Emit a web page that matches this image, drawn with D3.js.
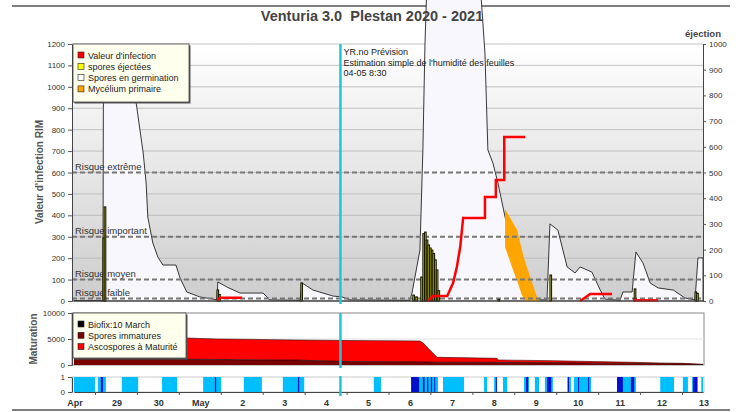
<!DOCTYPE html>
<html>
<head>
<meta charset="utf-8">
<script src="https://cdn.jsdelivr.net/npm/d3@7"></script>
<style>
body { margin: 0; background: #fff; }
text { font-family: "Liberation Sans", Arial, sans-serif; }
</style>
</head>
<body>
<div id="chart"></div>
<script>
// days counted from 28 April (0) to 13 May (15)
const dayLabels = ["Apr","29","30","May","2","3","4","5","6","7","8","9","10","11","12","13"];
const riskLevels = [600, 300, 100, 12];
const riskNames = ["Risque extrême", "Risque important", "Risque moyen", "Risque faible"];
const forecastDay = 6.354; // 04-05 8:30

// spores en germination [day, value]
const germination = [[0,2],[0.62,2],[0.69,0],[0.70,900],[0.72,1150],[0.80,1190],[1.30,1185],[1.40,1100],[1.48,929],
  [1.65,691],[1.72,551],[1.76,392],[1.88,271],[2.00,205],[2.12,168],[2.43,168],[2.53,107],[2.69,42],[3.00,19],
  [3.31,9],[3.41,5],[3.43,89],[3.65,65],[3.96,37],[4.51,37],[4.67,5],[5.39,3],[5.44,84],[5.70,51],[5.94,37],
  [6.18,23],[6.39,19],[6.58,5],[8.01,3],[8.06,37],[8.25,238],[8.32,705],[8.37,1200],[8.42,1500],[9.68,1500],
  [9.80,1158],[9.87,705],[9.99,644],[10.11,551],[10.28,392],[10.47,252],[10.70,90],[10.88,5],[11.28,5],
  [11.35,360],[11.54,331],[11.76,159],[11.95,131],[12.07,159],[12.35,135],[12.55,51],[12.66,9],[13.02,3],
  [13.09,42],[13.31,42],[13.40,229],[13.57,177],[13.74,84],[13.93,61],[14.29,51],[14.57,14],[14.81,5],
  [14.88,201],[15,201]];

// mycelium primaire [day, low, high]
const mycelium = [[10.28,252,430],[10.47,145,364],[10.57,93,331],[10.68,28,238],[10.76,0,182],
  [10.88,0,112],[11.04,0,19],[11.11,0,0]];

// valeur d'infection, one array per run
const infection = [
  [[3.41,0],[3.48,15],[4.01,15]],
  [[8.44,0],[8.56,23],[8.90,23],[9.04,84],[9.13,159],[9.21,252],[9.28,388],[9.80,388],[9.80,486],
   [10.06,486],[10.06,565],[10.26,565],[10.26,766],[10.76,766]],
  [[12.07,0],[12.31,33],[12.83,33]],
  [[13.33,3],[13.93,3]]
];

// spores éjectées (right axis) [day, value]
const ejection = [[0.69,245],[0.72,366],[3.41,43],[3.45,25],[5.41,70],[8.08,23],[8.15,16],[8.27,93],
  [8.32,262],[8.36,268],[8.40,237],[8.44,218],[8.48,206],[8.52,198],[8.56,185],[8.60,160],[8.64,121],
  [8.68,40],[10.11,6],[11.35,101],[13.36,47],[14.81,35],[14.85,30]];

// maturation
const maturationDays = [0,2.67,3.41,4.0,5.27,6.58,8.25,8.32,8.44,8.66,10.09,10.11,11.40,12.07,13.33,13.98,14.50,15];
const sporesImmatures = [1100,1100,1080,1000,960,650,600,580,560,550,520,500,450,400,300,250,200,100];
const ascosporesMatures = [4100,4090,3920,3950,3850,4050,4015,3708,2709,931,768,462,377,312,219,135,127,35];

// leaf wetness strip [start, end]
const wetPeriods = [[0,0.5],[0.57,0.76],[1.14,1.53],[2.10,2.46],[3.08,3.51],[4.05,4.48],[4.98,5.49],
  [7.15,7.32],[8.04,8.68],[8.80,9.30],[9.78,9.85],[10.02,10.09],[10.23,10.33],[10.73,10.85],[10.99,11.09],
  [11.23,11.42],[11.76,11.85],[11.92,12.33],[12.95,13.40],[13.98,14.31],[14.52,14.64],[14.74,14.88],[14.96,15.0]];
const rainPeriods = [[0.64,0.69],[3.36,3.39],[5.34,5.37],[8.04,8.23],[8.32,8.36],[8.42,8.45],[8.51,8.54],
  [8.59,8.61],[10.06,10.08],[10.78,10.83],[11.28,11.38],[11.78,11.80],[12.02,12.04],[12.26,12.28],
  [12.95,13.09],[13.28,13.36],[14.76,14.86]];

var width = 740, height = 412;

var svg = d3.select("#chart")
    .append("svg")
    .attr("width", width)
    .attr("height", height);

var x = d3.scaleLinear().domain([0, 15]).range([74, 703]);
var yL = d3.scaleLinear().domain([0, 1200]).range([301, 44]);
var yR = d3.scaleLinear().domain([0, 1000]).range([301, 44]);
var yM = d3.scaleLinear().domain([0, 10000]).range([365, 313]);
var yS = d3.scaleLinear().domain([0, 1]).range([392, 377]);
var fmt = d3.format("d");

var grad = svg.append("defs").append("linearGradient")
    .attr("id", "bg").attr("x1", 0).attr("y1", 0).attr("x2", 0).attr("y2", 1);
grad.append("stop").attr("offset", "0%").attr("stop-color", "#ffffff");
grad.append("stop").attr("offset", "100%").attr("stop-color", "#cdcdcd");

// frame lines
svg.append("line").attr("x1", 12).attr("x2", 730).attr("y1", 6).attr("y2", 6)
    .attr("stroke", "#555").attr("stroke-width", 1.5);
svg.append("line").attr("x1", 12).attr("x2", 730).attr("y1", 410).attr("y2", 410)
    .attr("stroke", "#555").attr("stroke-width", 1.5);

// ---- top panel
svg.append("rect")
    .attr("x", 72).attr("y", 44).attr("width", 631).attr("height", 257)
    .attr("fill", "url(#bg)");

svg.append("g").selectAll("line")
    .data(d3.range(100, 1201, 100))
    .join("line")
    .attr("x1", 72).attr("x2", 703)
    .attr("y1", d => yL(d)).attr("y2", d => yL(d))
    .attr("stroke", "#b5b5b5").attr("stroke-width", 0.8);

svg.append("path")
    .datum(germination)
    .attr("fill", "#f7f7fd")
    .attr("stroke", "#222")
    .attr("stroke-width", 0.9)
    .attr("d", d3.area()
        .x(d => x(d[0]))
        .y0(yL(0))
        .y1(d => yL(d[1])));

svg.append("path")
    .datum(mycelium)
    .attr("fill", "#ffa500")
    .attr("d", d3.area()
        .x(d => x(d[0]))
        .y0(d => yL(d[1]))
        .y1(d => yL(d[2])));

svg.append("g").selectAll("line")
    .data(riskLevels)
    .join("line")
    .attr("x1", 72).attr("x2", 703)
    .attr("y1", d => yL(d)).attr("y2", d => yL(d))
    .attr("stroke", "#777").attr("stroke-width", 2)
    .attr("stroke-dasharray", "5,3");

svg.append("g").selectAll("text")
    .data(riskLevels)
    .join("text")
    .attr("x", 75)
    .attr("y", d => yL(d) - 2.5)
    .attr("font-size", 9.5)
    .attr("fill", "#333")
    .text((d, i) => riskNames[i]);

svg.append("g").selectAll("rect")
    .data(ejection)
    .join("rect")
    .attr("x", d => x(d[0]))
    .attr("y", d => yR(d[1]))
    .attr("width", 1.6)
    .attr("height", d => yR(0) - yR(d[1]))
    .attr("fill", "#e8e800")
    .attr("stroke", "#1a1a00")
    .attr("stroke-width", 1.1);

var infLine = d3.line().x(d => x(d[0])).y(d => yL(d[1]));
svg.append("g").selectAll("path")
    .data(infection)
    .join("path")
    .attr("fill", "none")
    .attr("stroke", "#ff0000")
    .attr("stroke-width", 2.5)
    .attr("d", infLine);

var axL = svg.append("g")
    .attr("transform", "translate(72,0)")
    .call(d3.axisLeft(yL).tickValues(d3.range(0, 1201, 100)).tickFormat(fmt).tickSize(4).tickSizeOuter(0));
var axR = svg.append("g")
    .attr("transform", "translate(703,0)")
    .call(d3.axisRight(yR).tickValues(d3.range(0, 1001, 100)).tickFormat(fmt).tickSize(3).tickSizeOuter(0));
svg.append("line").attr("x1", 72).attr("x2", 703).attr("y1", 301).attr("y2", 301)
    .attr("stroke", "#444");

// ---- maturation panel
svg.append("rect")
    .attr("x", 72).attr("y", 313).attr("width", 632).attr("height", 52)
    .attr("fill", "#fff").attr("stroke", "#888");
svg.append("line").attr("x1", 72).attr("x2", 704).attr("y1", yM(5000)).attr("y2", yM(5000))
    .attr("stroke", "#e2e2e2");

var matRows = maturationDays.map((d, i) => ({day: d, imm: sporesImmatures[i], mat: ascosporesMatures[i]}));
var stacked = d3.stack().keys(["imm", "mat"])(matRows);
var matColors = {imm: "#7a0000", mat: "#ff0000"};
svg.append("g").selectAll("path")
    .data(stacked.slice().reverse())
    .join("path")
    .attr("fill", d => matColors[d.key])
    .attr("d", d3.area()
        .x(d => x(d.data.day))
        .y0(d => yM(d[0]))
        .y1(d => yM(d[1])));
svg.append("path")
    .datum(stacked[0])
    .attr("fill", "none")
    .attr("stroke", "#000")
    .attr("stroke-width", 0.6)
    .attr("d", d3.line().x(d => x(d.data.day)).y(d => yM(d[1])));
svg.append("path")
    .datum(stacked[1])
    .attr("fill", "none")
    .attr("stroke", "#300")
    .attr("stroke-width", 0.6)
    .attr("d", d3.line().x(d => x(d.data.day)).y(d => yM(d[1])));

var axM = svg.append("g")
    .attr("transform", "translate(72,0)")
    .call(d3.axisLeft(yM).tickValues([0, 5000, 10000]).tickFormat(fmt).tickSize(4).tickSizeOuter(0));

// ---- wetness strip
svg.append("rect")
    .attr("x", 72).attr("y", 377).attr("width", 632).attr("height", 15)
    .attr("fill", "#fff").attr("stroke", "#ccc");
svg.append("g").selectAll("rect")
    .data(wetPeriods)
    .join("rect")
    .attr("x", d => x(d[0]))
    .attr("y", yS(1))
    .attr("width", d => x(d[1]) - x(d[0]))
    .attr("height", yS(0) - yS(1))
    .attr("fill", "#00bfff");
svg.append("g").selectAll("rect")
    .data(rainPeriods)
    .join("rect")
    .attr("x", d => x(d[0]))
    .attr("y", yS(1))
    .attr("width", d => Math.max(1, x(d[1]) - x(d[0])))
    .attr("height", yS(0) - yS(1))
    .attr("fill", "#0010cc");

var axS = svg.append("g")
    .attr("transform", "translate(72,0)")
    .call(d3.axisLeft(yS).tickValues([0, 1]).tickFormat(fmt).tickSize(4).tickSizeOuter(0));

var axB = svg.append("g")
    .attr("transform", "translate(0,392)")
    .call(d3.axisBottom(x).tickValues(d3.range(0.5, 15, 1)).tickSize(3).tickSizeOuter(0).tickFormat(""));
svg.append("g").selectAll("text")
    .data(dayLabels)
    .join("text")
    .attr("x", (d, i) => x(i) + 1)
    .attr("y", 406)
    .attr("text-anchor", "middle")
    .attr("font-size", 9)
    .attr("font-weight", "bold")
    .attr("fill", "#333")
    .text(d => d);

[axL, axR, axM, axS, axB].forEach(function(a) {
  a.selectAll("text").attr("font-size", 8).attr("fill", "#333")
      .attr("font-family", "Liberation Sans, Arial, sans-serif");
  a.selectAll("line").attr("stroke", "#555");
  a.select(".domain").attr("stroke", "#444");
});

// forecast line
[[44, 304], [313, 368], [376, 396]].forEach(function(r) {
  svg.append("line")
      .attr("x1", x(forecastDay)).attr("x2", x(forecastDay))
      .attr("y1", r[0]).attr("y2", r[1])
      .attr("stroke", "#1fc6d6").attr("stroke-width", 2.5);
});
svg.append("g").selectAll("text")
    .data(["YR.no Prévision", "Estimation simple de l'humidité des feuilles", "04-05 8:30"])
    .join("text")
    .attr("x", x(forecastDay) + 3)
    .attr("y", (d, i) => 55 + i * 10.5)
    .attr("font-size", 9)
    .attr("fill", "#222")
    .text(d => d);

// ---- legends
function legend(x0, y0, w, h, items) {
  var g = svg.append("g");
  g.append("rect").attr("x", x0 + 1.5).attr("y", y0 + 1.5).attr("width", w).attr("height", h)
      .attr("fill", "#555");
  g.append("rect").attr("x", x0).attr("y", y0).attr("width", w).attr("height", h)
      .attr("fill", "#ffffee").attr("stroke", "#444").attr("stroke-width", 0.8);
  items.forEach(function(it, i) {
    g.append("rect").attr("x", x0 + 5).attr("y", y0 + 8 + i * 11.3).attr("width", 6).attr("height", 6)
        .attr("fill", it[1]).attr("stroke", "#222").attr("stroke-width", 0.6);
    g.append("text").attr("x", x0 + 15).attr("y", y0 + 14.5 + i * 11.3)
        .attr("font-size", 9).attr("fill", "#222").text(it[0]);
  });
}
legend(73, 44, 116, 58, [["Valeur d'infection", "#ff0000"], ["spores éjectées", "#ffff00"],
  ["Spores en germination", "#ffffff"], ["Mycélium primaire", "#ffa500"]]);
legend(73, 313, 113, 45, [["Biofix:10 March", "#000000"], ["Spores immatures", "#7a0000"],
  ["Ascospores à Maturité", "#ff0000"]]);

// ---- titles
svg.append("text")
    .attr("x", 372).attr("y", 21)
    .attr("text-anchor", "middle")
    .attr("font-size", 14.5).attr("font-weight", "bold").attr("fill", "#444")
    .attr("xml:space", "preserve")
    .text("Venturia 3.0  Plestan 2020 - 2021");
svg.append("text")
    .attr("x", 703).attr("y", 37)
    .attr("text-anchor", "middle")
    .attr("font-size", 9.5).attr("font-weight", "bold").attr("fill", "#444")
    .text("éjection");
svg.append("text")
    .attr("transform", "translate(43,172) rotate(-90)")
    .attr("text-anchor", "middle")
    .attr("font-size", 10).attr("font-weight", "bold").attr("fill", "#555")
    .text("Valeur d'infection RIM");
svg.append("text")
    .attr("transform", "translate(37,339) rotate(-90)")
    .attr("text-anchor", "middle")
    .attr("font-size", 10).attr("font-weight", "bold").attr("fill", "#555")
    .text("Maturation");
</script>
</body>
</html>
